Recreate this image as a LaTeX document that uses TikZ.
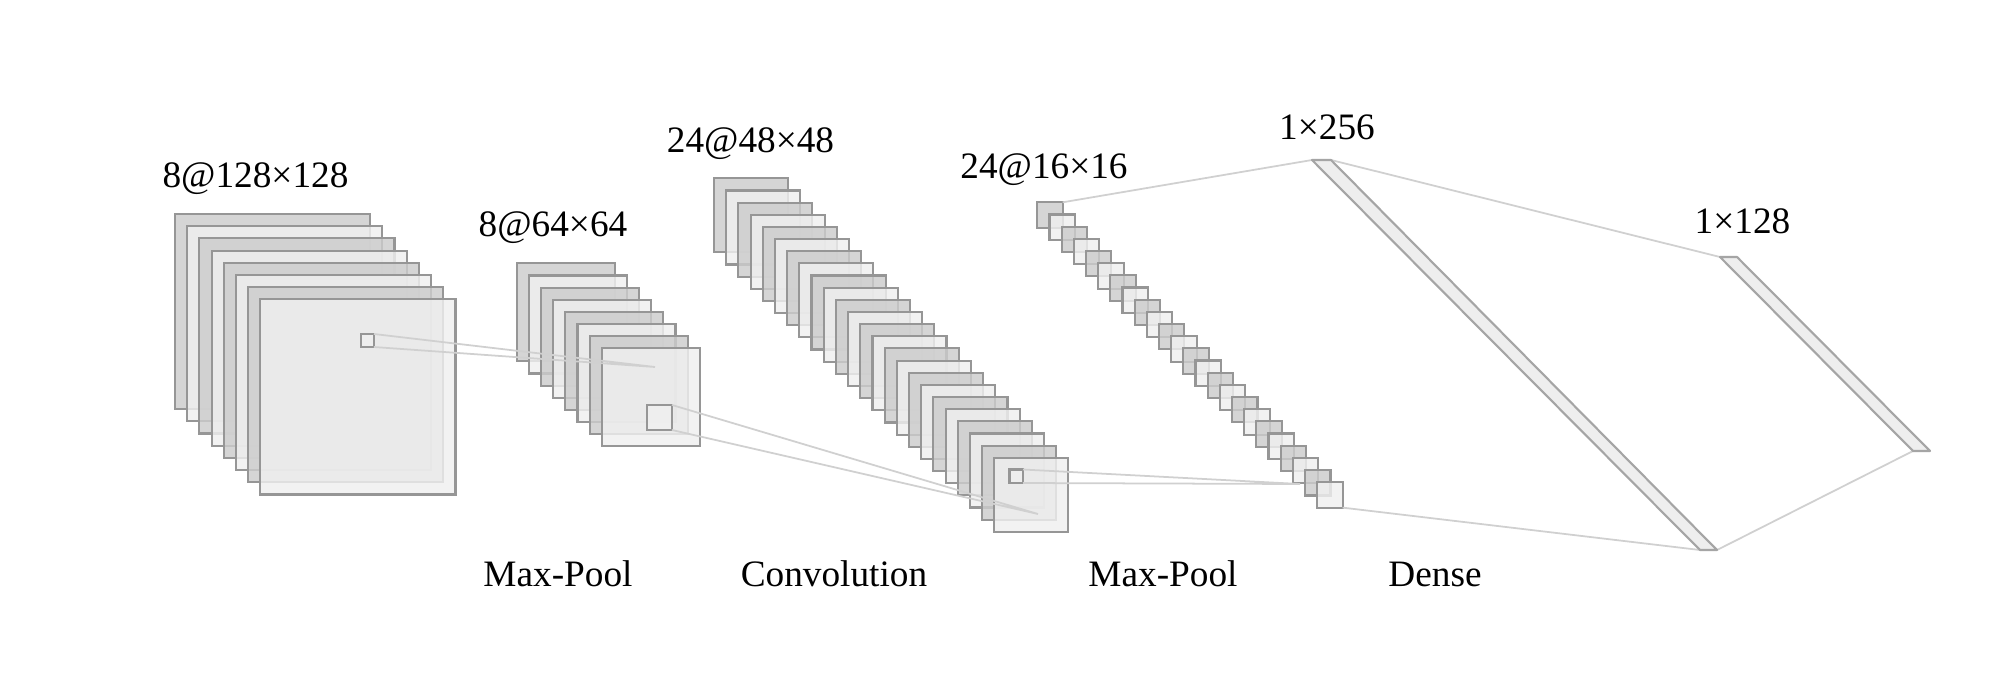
\documentclass[tikz,border=0pt]{standalone}
\usepackage{fontspec}
\setmainfont{Liberation Serif}
\definecolor{edgec}{RGB}{150,150,150}
\definecolor{darkf}{RGB}{204,204,204}
\definecolor{lightf}{RGB}{240,240,240}
\definecolor{connc}{RGB}{208,208,208}
\definecolor{barf}{RGB}{238,238,238}
\definecolor{bare}{RGB}{165,165,165}
\tikzset{
  fmap/.style={draw=edgec, line width=0.6pt, fill opacity=0.82, inner sep=0pt, outer sep=0pt, anchor=north west, minimum size=#1},
  conn/.style={draw=connc, line width=0.5pt},
  barshape/.style={draw=bare, fill=barf, line width=0.6pt, line join=round},
  lbl/.style={font=\fontsize{10.6}{12}\selectfont, inner sep=0pt, anchor=base},
}
\begin{document}
\begin{tikzpicture}[x=0.01cm, y=-0.01cm]
\fill[white] (0,0) rectangle (2000,697);
\useasboundingbox (0,0) rectangle (2000,697);

% layer 1: 8@128x128
\foreach \i in {0,...,7}{
  \ifodd\i \def\fc{lightf}\else\def\fc{darkf}\fi
  \node[fmap=1.95cm, fill=\fc] (A\i) at ({175+12.2*\i},{214+12.2*\i}) {};
}
% layer 2: 8@64x64
\foreach \i in {0,...,7}{
  \ifodd\i \def\fc{lightf}\else\def\fc{darkf}\fi
  \node[fmap=0.98cm, fill=\fc] (B\i) at ({516.7+12.15*\i},{263.3+12.15*\i}) {};
}
% layer 3: 24@48x48
\foreach \i in {0,...,23}{
  \ifodd\i \def\fc{lightf}\else\def\fc{darkf}\fi
  \node[fmap=0.74cm, fill=\fc] (C\i) at ({714+12.19*\i},{178.3+12.15*\i}) {};
}
% layer 4: 24@16x16
\foreach \i in {0,...,23}{
  \ifodd\i \def\fc{lightf}\else\def\fc{darkf}\fi
  \node[fmap=0.254cm, fill=\fc] (D\i) at ({1037.3+12.17*\i},{202.3+12.17*\i}) {};
}

% receptive-field squares
\node[fmap=0.13cm, fill=lightf] (a1) at (361,334) {};
\node[fmap=0.25cm, fill=lightf] (b1) at (647,405) {};
\node[fmap=0.135cm, fill=lightf] (c1) at (1009.5,469.5) {};

\coordinate (p1) at (655,367);
\coordinate (p2) at (1038,514);
\coordinate (p3) at (1300,484);

\draw[conn] (a1.north east) -- (p1) (a1.south east) -- (p1);
\draw[conn] (b1.north east) -- (p2) (b1.south east) -- (p2);
\draw[conn] (c1.north east) -- (p3) (c1.south east) -- (p3);

% dense bars
\coordinate (d1a) at (1312,160);
\coordinate (d1b) at (1331,160);
\coordinate (d1c) at (1717,550);
\coordinate (d1d) at (1700,550);
\coordinate (d2a) at (1720,257);
\coordinate (d2b) at (1737,257);
\coordinate (d2c) at (1930,451);
\coordinate (d2d) at (1913,451);

\draw[conn] (D0.north east) -- (d1a);
\draw[conn] (D23.south east) -- (d1d);
\draw[conn] (d1b) -- (d2a);
\draw[conn] (d1c) -- (d2d);

\draw[barshape] (d1a) -- (d1b) -- (d1c) -- (d1d) -- cycle;
\draw[barshape] (d2a) -- (d2b) -- (d2c) -- (d2d) -- cycle;

% labels
\node[lbl] (t1) at (255.5,187) {8@128×128};
\node[lbl] (t2) at (553,236) {8@64×64};
\node[lbl] (t3) at (750.5,152.5) {24@48×48};
\node[lbl] (t4) at (1044,178) {24@16×16};
\node[lbl] (t5) at (1327,139) {1×256};
\node[lbl] (t6) at (1742.5,233) {1×128};
\node[lbl] (u1) at (558,586.5) {Max-Pool};
\node[lbl] (u2) at (834,586.5) {Convolution};
\node[lbl] (u3) at (1163,586.5) {Max-Pool};
\node[lbl] (u4) at (1435,586.5) {Dense};
\end{tikzpicture}
\end{document}
